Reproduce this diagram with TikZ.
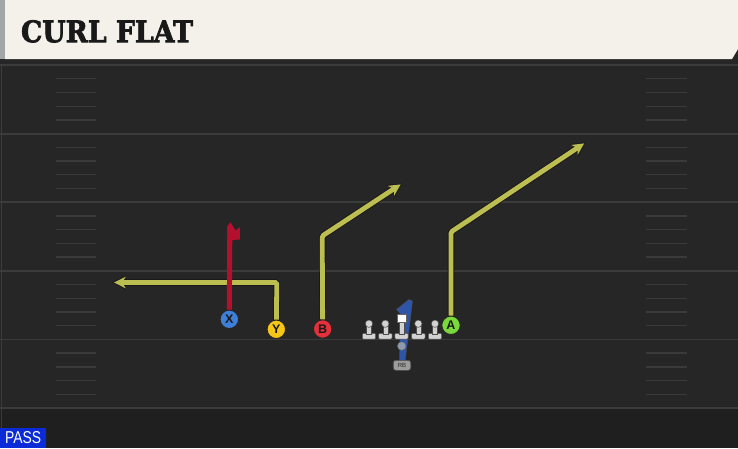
\documentclass[tikz,border=0pt]{standalone}
\usepackage{fontspec}
\setmainfont{Liberation Sans}
\newfontfamily\titlefont{DejaVu Serif}[BoldFeatures={FakeBold=2.5}]
\usetikzlibrary{arrows.meta}
\definecolor{fieldbg}{HTML}{262626}
\definecolor{fieldline}{HTML}{3B3B3B}
\definecolor{hashcol}{HTML}{3A3A3A}
\definecolor{titlebg}{HTML}{F4F1EA}
\definecolor{titleedge}{HTML}{A3A6A6}
\definecolor{passblue}{HTML}{0B2AD8}
\definecolor{routey}{HTML}{BDBE52}
\definecolor{routered}{HTML}{B3102E}
\definecolor{routeblue}{HTML}{2F55A8}
\definecolor{pblue}{HTML}{3D7FD9}
\definecolor{pyellow}{HTML}{F5C518}
\definecolor{pred}{HTML}{E3303A}
\definecolor{pgreen}{HTML}{7AD83A}
\definecolor{olgray}{HTML}{D2D2D2}
\definecolor{qbgray}{HTML}{8E9AAE}
\definecolor{rbgray}{HTML}{9C9C9C}
\tikzset{
  player/.style={circle, draw=black!85, line width=1pt, minimum size=18.5pt, inner sep=0pt,
    font=\bfseries\fontsize{12.5}{12.5}\selectfont, text=black!90},
  routeout/.style={draw=black!90, line width=6.6pt, rounded corners=1.5pt,
    -{Stealth[length=14pt,width=15pt,inset=4.2pt]}},
  routein/.style={draw=routey, line width=4.8pt, rounded corners=1.5pt, shorten >=1.6pt,
    -{Stealth[length=11.5pt,width=11.5pt,inset=3.4pt]}},
  redroute/.style={draw=routered, line width=5pt},
  yardline/.style={draw=fieldline, line width=1.8pt},
  hashmark/.style={draw=hashcol, line width=1.3pt},
  olbody/.style={fill=olgray, draw=black!70, line width=0.5pt},
  lineman/.pic={
    \filldraw[olbody, rounded corners=1pt] (-6.7,339) rectangle (6.7,333.3);
    \filldraw[olbody] (-2.5,334) rectangle (2.5,326);
    \filldraw[olbody] (0,323.7) circle (3.7);
  },
  centerman/.pic={
    \filldraw[olbody, rounded corners=1pt] (-6.7,339) rectangle (6.7,333.3);
    \filldraw[olbody] (-2.5,334) rectangle (2.5,322.5);
    \filldraw[fill=white, draw=black!60, line width=0.5pt] (-4.6,313.8) rectangle (4.6,322.7);
  }
}
\begin{document}
\begin{tikzpicture}[x=1pt,y=-1pt]
\useasboundingbox (0,0) rectangle (738,448);
% field
\fill[fieldbg] (0,0) rectangle (738,448);
\fill[black!85] (0,58) rectangle (738,64);
\fill[black!88] (0,409) rectangle (738,448);
\draw[fieldline, line width=1pt] (1,64) -- (1,448);
\foreach \k in {0,...,5} {
  \draw[yardline] (0,{65+68.6*\k}) -- (738,{65+68.6*\k});
}
\foreach \k in {0,...,4} {
  \foreach \j in {1,...,4} {
    \draw[hashmark] (56,{65+68.6*\k+13.72*\j}) -- (96,{65+68.6*\k+13.72*\j});
    \draw[hashmark] (646,{65+68.6*\k+13.72*\j}) -- (687,{65+68.6*\k+13.72*\j});
  }
}
% title bar
\fill[titlebg] (5,0) -- (738,0) -- (738,49) -- (732,59) -- (5,59) -- cycle;
\fill[titleedge] (0,0) rectangle (5,59);
\node[anchor=south west, inner sep=0pt, text=black!90] (title) at (20.8,42.8)
  {\resizebox{172pt}{22pt}{\titlefont\bfseries CURL FLAT}};
% PASS label
\node[anchor=south west, fill=passblue, minimum width=46pt, minimum height=20pt, inner sep=0pt,
  text=white] (pass) at (0,448) {\resizebox{36pt}{12pt}{PASS}};
% RB route (blue)
\filldraw[fill=routeblue, draw=black!70, line width=0.4pt]
  (396.5,309.5) -- (404.5,303) -- (409,299.5) -- (412.5,301) -- (405,362) -- (399.5,362)
  -- (400.5,314) -- cycle;
% offensive line
\pic at (369,0) {lineman};
\pic at (385.3,0) {lineman};
\pic at (401.5,0) {centerman};
\pic at (418.3,0) {lineman};
\pic at (435,0) {lineman};
% QB and RB
\node[circle, fill=qbgray, draw=black!60, line width=0.4pt, minimum size=8.5pt, inner sep=0pt] (qb) at (401.7,346) {};
\node[rounded corners=2.5pt, fill=rbgray, draw=black!70, line width=0.6pt, minimum width=17.5pt,
  minimum height=10pt, inner sep=0pt, font=\fontsize{6}{6}\selectfont, text=black!85] (rb) at (402,365.3) {RB};
% skill players
\node[player, fill=pblue] (X) at (229.3,319.3) {X};
\node[player, fill=pyellow] (Y) at (276.3,329.3) {Y};
\node[player, fill=pred] (B) at (322.7,329) {B};
\node[player, fill=pgreen] (A) at (451,325.3) {A};
% route points
\coordinate (xtop) at (229.8,227);
\coordinate (y1) at (276.8,282.5);
\coordinate (y2) at (112.5,282.5);
\coordinate (b1) at (322.2,236);
\coordinate (b2) at (402,183.5);
\coordinate (a1) at (451,232);
\coordinate (a2) at (585.5,142.5);
% yellow routes
\draw[routeout] (Y) -- (y1) -- (y2);
\draw[routeout] (B) -- (b1) -- (b2);
\draw[routeout] (A) -- (a1) -- (a2);
\draw[routein] (Y) -- (y1) -- (y2);
\draw[routein] (B) -- (b1) -- (b2);
\draw[routein] (A) -- (a1) -- (a2);
% red route (X)
\draw[redroute] (X) -- (xtop);
\fill[routered] (227.3,226) -- (230.5,222.3) -- (235.5,230.5) -- (239.8,227.3) -- (239.8,239.5)
  -- (232.3,240) -- (232.3,244) -- (227.3,244) -- cycle;
\end{tikzpicture}
\end{document}
